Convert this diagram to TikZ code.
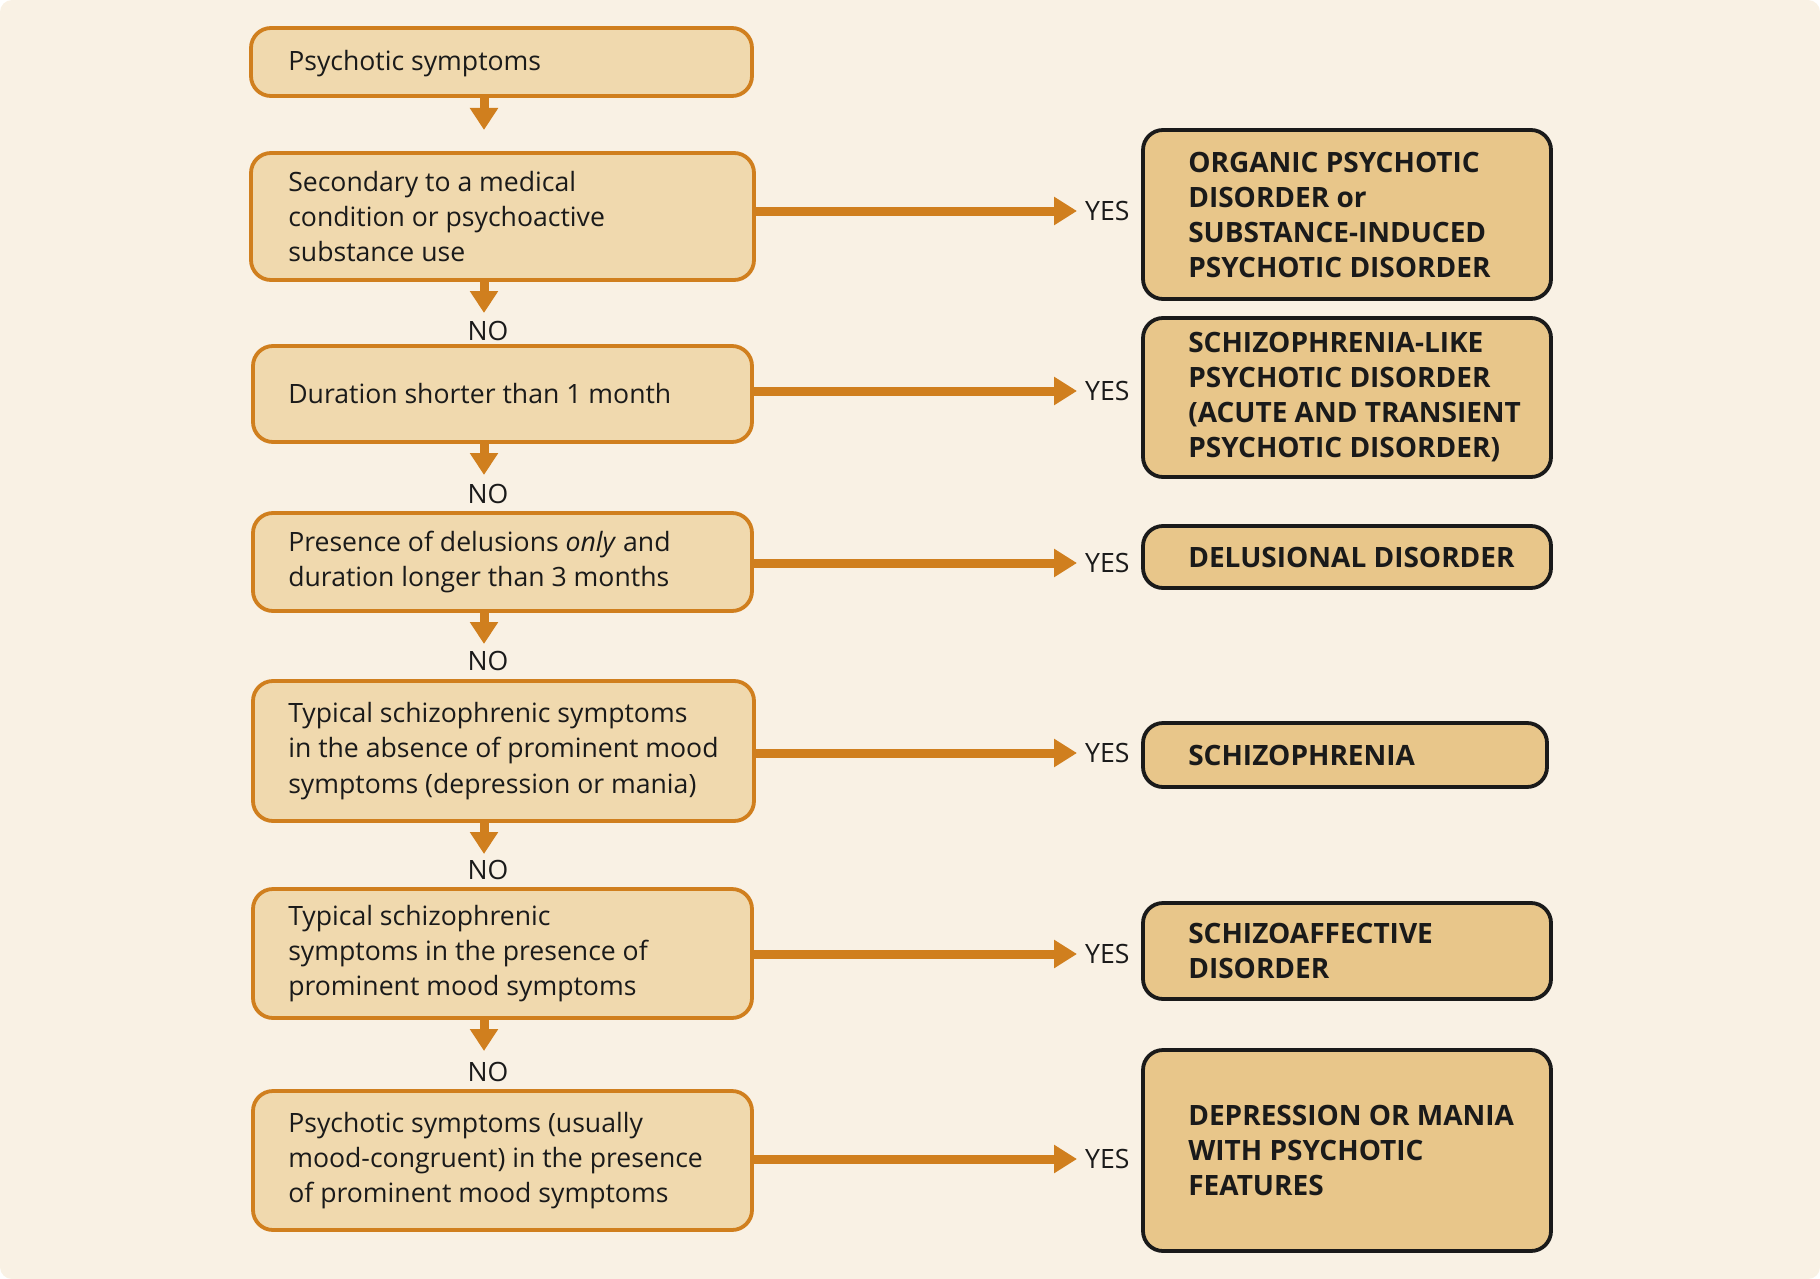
\documentclass[tikz,border=0pt]{standalone}
\usepackage{fontspec}
\setmainfont{Open Sans}
\usetikzlibrary{arrows.meta}
\definecolor{pagebg}{HTML}{F9F1E4}
\definecolor{lfill}{HTML}{F0D9AE}
\definecolor{rfill}{HTML}{E8C68A}
\definecolor{orng}{HTML}{D07F1E}
\definecolor{ink}{HTML}{1A1A1A}
\tikzset{
  lbox/.style={draw=orng, fill=lfill, line width=3.8pt, rounded corners=20pt, inner sep=0pt},
  rbox/.style={draw=ink, fill=rfill, line width=3.8pt, rounded corners=20pt, inner sep=0pt},
  ltext/.style={anchor=west, align=left, inner sep=0pt, text=ink, font=\fontsize{26.6}{35.3}\selectfont},
  rtext/.style={anchor=west, align=left, inner sep=0pt, text=ink, font=\fontsize{28}{35}\selectfont\bfseries},
  lbl/.style={inner sep=0pt, text=ink, font=\fontsize{26.6}{30}\selectfont},
  harrow/.style={draw=orng, line width=9pt, -{Triangle[length=23pt,width=27pt]}},
  varrow/.style={draw=orng, line width=9pt, -{Triangle[length=22pt,width=27pt]}},
}
\begin{document}
\begin{tikzpicture}[x=1pt,y=-1pt]
\useasboundingbox (0,0) rectangle (1820,1279);
\fill[pagebg, rounded corners=12pt] (0,0) rectangle (1820,1279);

% left column boxes
\node[lbox, minimum width=501pt, minimum height=68pt] (b1) at (501.5,62) {};
\node[lbox, minimum width=503pt, minimum height=127pt] (b2) at (502.5,216.5) {};
\node[lbox, minimum width=499pt, minimum height=96pt] (b3) at (502.5,394) {};
\node[lbox, minimum width=499pt, minimum height=98pt] (b4) at (502.5,562) {};
\node[lbox, minimum width=501pt, minimum height=140pt] (b5) at (503.5,751) {};
\node[lbox, minimum width=499pt, minimum height=129pt] (b6) at (502.5,953.5) {};
\node[lbox, minimum width=499pt, minimum height=139pt] (b7) at (502.5,1160.5) {};

\node[ltext] (l1) at ([xshift=39pt,yshift=-2pt]b1.west) {Psychotic symptoms};
\node[ltext] (l2) at ([xshift=39pt]b2.west) {Secondary to a medical\\condition or psychoactive\\substance use};
\node[ltext] (l3) at ([xshift=37pt]b3.west) {Duration shorter than 1 month};
\node[ltext] (l4) at ([xshift=37pt]b4.west) {Presence of delusions \textit{only} and\\duration longer than 3 months};
\node[ltext] (l5) at ([xshift=37pt]b5.west) {Typical schizophrenic symptoms\\in the absence of prominent mood\\symptoms (depression or mania)};
\node[ltext] (l6) at ([xshift=37pt]b6.west) {Typical schizophrenic\\symptoms in the presence of\\prominent mood symptoms};
\node[ltext] (l7) at ([xshift=37pt]b7.west) {Psychotic symptoms (usually\\mood-congruent) in the presence\\of prominent mood symptoms};

% right column boxes
\node[rbox, minimum width=408pt, minimum height=169pt] (r1) at (1347,214.5) {};
\node[rbox, minimum width=408pt, minimum height=159pt] (r2) at (1347,397.5) {};
\node[rbox, minimum width=408pt, minimum height=62pt] (r3) at (1347,557) {};
\node[rbox, minimum width=404pt, minimum height=64pt] (r4) at (1345,755) {};
\node[rbox, minimum width=408pt, minimum height=96pt] (r5) at (1347,951) {};
\node[rbox, minimum width=408pt, minimum height=201pt] (r6) at (1347,1150.5) {};

\node[rtext] (s1) at ([xshift=47pt]r1.west) {ORGANIC PSYCHOTIC\\DISORDER or\\SUBSTANCE-INDUCED\\PSYCHOTIC DISORDER};
\node[rtext] (s2) at ([xshift=47pt]r2.west) {SCHIZOPHRENIA-LIKE\\PSYCHOTIC DISORDER\\(ACUTE AND TRANSIENT\\PSYCHOTIC DISORDER)};
\node[rtext] (s3) at ([xshift=47pt]r3.west) {DELUSIONAL DISORDER};
\node[rtext] (s4) at ([xshift=47pt]r4.west) {SCHIZOPHRENIA};
\node[rtext] (s5) at ([xshift=47pt]r5.west) {SCHIZOAFFECTIVE\\DISORDER};
\node[rtext] (s6) at ([xshift=47pt]r6.west) {DEPRESSION OR MANIA\\WITH PSYCHOTIC\\FEATURES};

% YES labels
\node[lbl, anchor=west] (y1) at (1085,211) {YES};
\node[lbl, anchor=west] (y2) at (1085,391) {YES};
\node[lbl, anchor=west] (y3) at (1085,563) {YES};
\node[lbl, anchor=west] (y4) at (1085,753) {YES};
\node[lbl, anchor=west] (y5) at (1085,954) {YES};
\node[lbl, anchor=west] (y6) at (1085,1159) {YES};

\draw[harrow] (b2.east |- y1) -- ([xshift=-8pt]y1.west);
\draw[harrow] (b3.east |- y2) -- ([xshift=-8pt]y2.west);
\draw[harrow] (b4.east |- y3) -- ([xshift=-8pt]y3.west);
\draw[harrow] (b5.east |- y4) -- ([xshift=-8pt]y4.west);
\draw[harrow] (b6.east |- y5) -- ([xshift=-8pt]y5.west);
\draw[harrow] (b7.east |- y6) -- ([xshift=-8pt]y6.west);

% NO labels
\node[lbl] (n2) at (488,331) {NO};
\node[lbl] (n3) at (488,494) {NO};
\node[lbl] (n4) at (488,661) {NO};
\node[lbl] (n5) at (488,870) {NO};
\node[lbl] (n6) at (488,1072) {NO};

% vertical arrows
\coordinate (t1) at (484,130);
\coordinate (t2) at (484,313);
\coordinate (t3) at (484,475);
\coordinate (t4) at (484,644);
\coordinate (t5) at (484,854);
\coordinate (t6) at (484,1051);
\draw[varrow] (b1.south -| t1) -- (t1);
\draw[varrow] (b2.south -| t2) -- (t2);
\draw[varrow] (b3.south -| t3) -- (t3);
\draw[varrow] (b4.south -| t4) -- (t4);
\draw[varrow] (b5.south -| t5) -- (t5);
\draw[varrow] (b6.south -| t6) -- (t6);
\end{tikzpicture}
\end{document}
